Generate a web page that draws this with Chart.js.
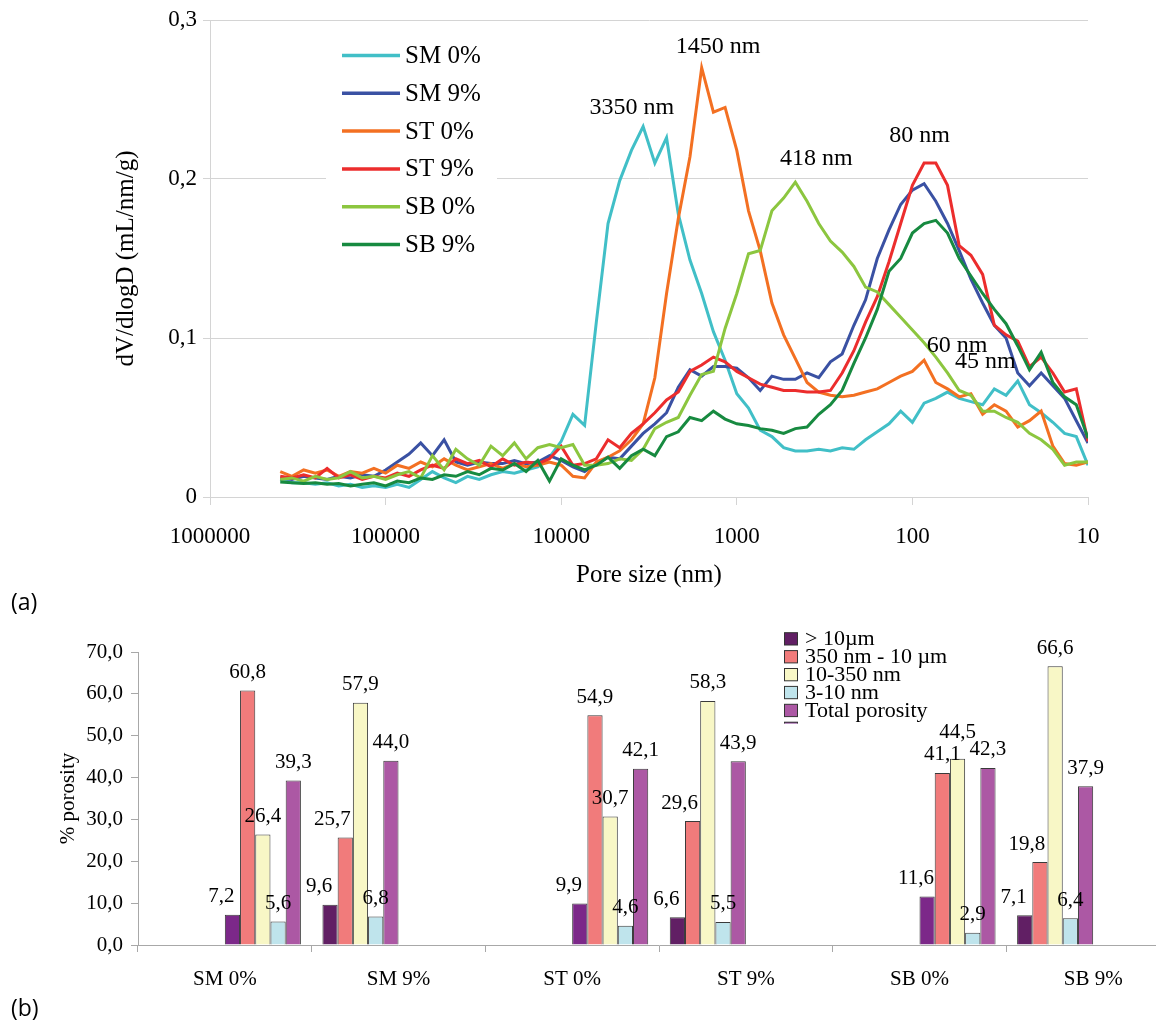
<!DOCTYPE html>
<html>
<head>
<meta charset="utf-8">
<script src="https://cdn.jsdelivr.net/npm/chart.js@4.4.0/dist/chart.umd.min.js"></script>
<style>
  html, body { margin: 0; padding: 0; background: #fff; overflow: hidden; }
  body { width: 1156px; height: 1022px; position: relative; }
  #poreChart { position: absolute; left: 0; top: 0; }
  #barChart { position: absolute; left: 0; top: 620px; }
  .tag { position: absolute; font-family: 'Open Sans', sans-serif; font-size: 23px; color: #000; line-height: 30px; }
</style>
</head>
<body>
<canvas id="poreChart" width="1156" height="600"></canvas>
<canvas id="barChart" width="1190" height="402"></canvas>
<div class="tag" style="left:11px; top:586px;">(a)</div>
<div class="tag" style="left:11px; top:992px;">(b)</div>
<script>
// (a) pore size distribution
const poreSize = [
  398100, 341500, 292900, 251200, 215400, 184800, 158500, 135900, 116600, 100000,
  85770, 73560, 63100, 54120, 46420, 39810, 34150, 29290, 25120, 21540,
  18480, 15850, 13590, 11660, 10000, 8577, 7356, 6310, 5412, 4642,
  3981, 3415, 2929, 2512, 2154, 1848, 1585, 1359, 1166, 1000,
  857.7, 735.6, 631.0, 541.2, 464.2, 398.1, 341.5, 292.9, 251.2, 215.4,
  184.8, 158.5, 135.9, 116.6, 100, 85.77, 73.56, 63.10, 54.12, 46.42,
  39.81, 34.15, 29.29, 25.12, 21.54, 18.48, 15.85, 13.59, 11.66, 10
];
const sm0 = [
  0.011, 0.009, 0.009, 0.008, 0.009, 0.007, 0.008, 0.006, 0.007, 0.006,
  0.008, 0.006, 0.011, 0.016, 0.012, 0.009, 0.013, 0.011, 0.014, 0.016,
  0.015, 0.017, 0.019, 0.025, 0.035, 0.052, 0.045, 0.110, 0.172, 0.199,
  0.218, 0.233, 0.210, 0.226, 0.178, 0.149, 0.128, 0.104, 0.086, 0.065,
  0.056, 0.042, 0.038, 0.031, 0.029, 0.029, 0.030, 0.029, 0.031, 0.030,
  0.036, 0.041, 0.046, 0.054, 0.047, 0.059, 0.062, 0.066, 0.062, 0.060,
  0.058, 0.068, 0.064, 0.073, 0.058, 0.053, 0.047, 0.040, 0.038, 0.020
];
const sm9 = [
  0.012, 0.011, 0.013, 0.012, 0.011, 0.013, 0.012, 0.014, 0.013, 0.017,
  0.022, 0.027, 0.034, 0.026, 0.036, 0.022, 0.020, 0.022, 0.021, 0.021,
  0.023, 0.021, 0.022, 0.026, 0.023, 0.019, 0.016, 0.021, 0.025, 0.024,
  0.032, 0.040, 0.046, 0.053, 0.069, 0.080, 0.076, 0.082, 0.082, 0.081,
  0.075, 0.067, 0.076, 0.074, 0.074, 0.078, 0.075, 0.085, 0.090, 0.108,
  0.124, 0.150, 0.168, 0.184, 0.193, 0.197, 0.186, 0.172, 0.155, 0.137,
  0.122, 0.108, 0.100, 0.078, 0.070, 0.078, 0.070, 0.062, 0.048, 0.034
];
const st0 = [
  0.016, 0.013, 0.017, 0.015, 0.017, 0.013, 0.016, 0.015, 0.018, 0.015,
  0.020, 0.018, 0.022, 0.019, 0.024, 0.020, 0.017, 0.019, 0.021, 0.018,
  0.021, 0.019, 0.020, 0.022, 0.020, 0.013, 0.012, 0.022, 0.025, 0.029,
  0.036, 0.046, 0.075, 0.128, 0.175, 0.214, 0.270, 0.242, 0.245, 0.218,
  0.180, 0.155, 0.122, 0.102, 0.087, 0.072, 0.066, 0.064, 0.063, 0.064,
  0.066, 0.068, 0.072, 0.076, 0.079, 0.086, 0.072, 0.068, 0.063, 0.065,
  0.052, 0.058, 0.054, 0.044, 0.048, 0.054, 0.032, 0.021, 0.020, 0.022
];
const st9 = [
  0.013, 0.012, 0.014, 0.012, 0.018, 0.012, 0.014, 0.011, 0.013, 0.012,
  0.015, 0.013, 0.017, 0.020, 0.018, 0.024, 0.021, 0.023, 0.019, 0.024,
  0.020, 0.022, 0.021, 0.024, 0.032, 0.020, 0.021, 0.024, 0.036, 0.031,
  0.040, 0.046, 0.053, 0.061, 0.066, 0.079, 0.083, 0.088, 0.085, 0.079,
  0.075, 0.071, 0.069, 0.067, 0.067, 0.066, 0.066, 0.067, 0.078, 0.092,
  0.110, 0.126, 0.148, 0.172, 0.196, 0.210, 0.210, 0.196, 0.158, 0.152,
  0.140, 0.108, 0.102, 0.098, 0.082, 0.088, 0.078, 0.066, 0.068, 0.035
];
const sb0 = [
  0.011, 0.012, 0.010, 0.013, 0.011, 0.012, 0.016, 0.012, 0.013, 0.011,
  0.014, 0.016, 0.012, 0.026, 0.017, 0.030, 0.024, 0.020, 0.032, 0.026,
  0.034, 0.024, 0.031, 0.033, 0.031, 0.033, 0.020, 0.020, 0.021, 0.024,
  0.023, 0.030, 0.043, 0.047, 0.050, 0.064, 0.077, 0.079, 0.106, 0.128,
  0.153, 0.155, 0.180, 0.188, 0.198, 0.186, 0.172, 0.161, 0.154, 0.145,
  0.132, 0.129, 0.121, 0.113, 0.105, 0.097, 0.088, 0.078, 0.067, 0.064,
  0.054, 0.054, 0.050, 0.047, 0.040, 0.036, 0.030, 0.020, 0.022, 0.022
];
const sb9 = [
  0.0095, 0.009, 0.0085, 0.009, 0.008, 0.0085, 0.007, 0.008, 0.009, 0.007,
  0.010, 0.009, 0.012, 0.011, 0.014, 0.013, 0.016, 0.014, 0.018, 0.017,
  0.021, 0.016, 0.023, 0.010, 0.024, 0.020, 0.017, 0.020, 0.025, 0.018,
  0.026, 0.030, 0.026, 0.038, 0.041, 0.050, 0.048, 0.054, 0.049, 0.046,
  0.045, 0.043, 0.042, 0.040, 0.043, 0.044, 0.052, 0.058, 0.067, 0.084,
  0.100, 0.118, 0.142, 0.150, 0.166, 0.172, 0.174, 0.166, 0.150, 0.139,
  0.128, 0.118, 0.109, 0.095, 0.080, 0.091, 0.072, 0.063, 0.058, 0.037
];
const seriesNames = ['SM 0%', 'SM 9%', 'ST 0%', 'ST 9%', 'SB 0%', 'SB 9%'];
const seriesValues = [sm0, sm9, st0, st9, sb0, sb9];
const xTicks = [1000000, 100000, 10000, 1000, 100, 10];
const yTicksA = [0, 0.1, 0.2, 0.3];
// peak notes: text placed at (pore size, dV/dlogD)
const peakNotes = [
  { text: '3350 nm', pore: 3955, value: 0.245 },
  { text: '1450 nm', pore: 1280, value: 0.283 },
  { text: '418 nm', pore: 352, value: 0.2125 },
  { text: '80 nm', pore: 91, value: 0.2275 },
  { text: '60 nm', pore: 55.7, value: 0.095 },
  { text: '45 nm', pore: 38.4, value: 0.085 }
];

// (b) porosity by pore class
const samples = ['SM 0%', 'SM 9%', 'ST 0%', 'ST 9%', 'SB 0%', 'SB 9%'];
const classNames = ['> 10\u00b5m', '350 nm - 10 \u00b5m', '10-350 nm', '3-10 nm', 'Total porosity'];
const over10um = [7.2, 9.6, 9.9, 6.6, 11.6, 7.1];
const from350nmTo10um = [60.8, 25.7, 54.9, 29.6, 41.1, 19.8];
const from10To350nm = [26.4, 57.9, 30.7, 58.3, 44.5, 66.6];
const from3To10nm = [5.6, 6.8, 4.6, 5.5, 2.9, 6.4];
const totalPorosity = [39.3, 44.0, 42.1, 43.9, 42.3, 37.9];
const classValues = [over10um, from350nmTo10um, from10To350nm, from3To10nm, totalPorosity];

const serif = "'Liberation Serif', 'Times New Roman', serif";
const lineColors = ['#41bfc7', '#3a51a3', '#f37022', '#ec2d2d', '#8cc63f', '#178a40'];
const colors9 = ['#611f64', '#f17b7b', '#f8f7c6', '#bfe4ec', '#ac58a4'];
const colors0 = ['#7c2889', '#f17b7b', '#f8f7c6', '#bfe4ec', '#ac58a4'];

const legendA = {
  id: 'legendA',
  afterDraw(chart) {
    const ctx = chart.ctx;
    const left = chart.chartArea.left;
    ctx.save();
    ctx.fillStyle = '#fff';
    ctx.fillRect(left + 116, 32, 171, 236);
    ctx.font = '25px ' + serif;
    ctx.textBaseline = 'middle';
    chart.data.datasets.forEach((ds, k) => {
      const y = 55.5 + k * 37.8;
      ctx.strokeStyle = ds.borderColor;
      ctx.lineWidth = 3.5;
      ctx.beginPath();
      ctx.moveTo(left + 132, y);
      ctx.lineTo(left + 190, y);
      ctx.stroke();
      ctx.fillStyle = '#000';
      ctx.fillText(ds.label, left + 195, y + 1);
    });
    ctx.restore();
  }
};

const notesA = {
  id: 'notesA',
  afterDatasetsDraw(chart) {
    const ctx = chart.ctx;
    const sx = chart.scales.x, sy = chart.scales.y;
    ctx.save();
    ctx.font = '24px ' + serif;
    ctx.fillStyle = '#000';
    ctx.textAlign = 'center';
    ctx.textBaseline = 'middle';
    peakNotes.forEach(n => ctx.fillText(n.text, sx.getPixelForValue(n.pore), sy.getPixelForValue(n.value)));
    ctx.restore();
  }
};

new Chart(document.getElementById('poreChart'), {
  type: 'line',
  data: {
    datasets: seriesNames.map((name, k) => ({
      label: name,
      data: poreSize.map((d, i) => ({ x: d, y: seriesValues[k][i] })),
      borderColor: lineColors[k],
      backgroundColor: lineColors[k],
      borderWidth: 3,
      pointRadius: 0,
      tension: 0,
      fill: false,
      order: seriesNames.length - 1 - k
    }))
  },
  options: {
    responsive: false,
    animation: false,
    layout: { padding: { left: 0, right: 68, top: 20, bottom: 0 } },
    plugins: { legend: { display: false }, tooltip: { enabled: false } },
    scales: {
      x: {
        type: 'logarithmic',
        reverse: true,
        min: 10,
        max: 1000000,
        afterBuildTicks: (axis) => { axis.ticks = xTicks.map(v => ({ value: v })); },
        afterFit: (axis) => { axis.height = 103; },
        ticks: {
          callback: (v) => String(v),
          font: { family: serif, size: 23 },
          color: '#000',
          padding: 18,
          maxRotation: 0,
          autoSkip: false
        },
        grid: { drawOnChartArea: false, drawTicks: true, tickLength: 8, color: '#d4d4d4' },
        border: { color: '#d4d4d4' },
        title: {
          display: true,
          text: 'Pore size (nm)',
          font: { family: serif, size: 25 },
          color: '#000',
          padding: { top: 0, bottom: 10 }
        }
      },
      y: {
        min: 0,
        max: 0.3,
        afterBuildTicks: (axis) => { axis.ticks = yTicksA.map(v => ({ value: v })); },
        afterFit: (axis) => { axis.width = 210; },
        ticks: {
          callback: (v) => v === 0 ? '0' : v.toFixed(1).replace('.', ','),
          font: { family: serif, size: 23 },
          color: '#000',
          padding: 6
        },
        grid: { color: '#d4d4d4', tickLength: 7 },
        border: { color: '#d4d4d4' },
        title: {
          display: true,
          text: 'dV/dlogD (mL/nm/g)',
          font: { family: serif, size: 25 },
          color: '#000',
          padding: { top: 111, bottom: 0 }
        }
      }
    }
  },
  plugins: [notesA, legendA]
});

// bar chart: first five slots hold the 9% samples, the last five the 0% samples
const barSets = [];
classValues.forEach((vals, c) => {
  barSets.push({
    label: classNames[c],
    data: vals.map((v, i) => i % 2 === 1 ? v : null),
    backgroundColor: colors9[c]
  });
});
classValues.forEach((vals, c) => {
  barSets.push({
    label: classNames[c] + ' ',
    data: vals.map((v, i) => i % 2 === 0 ? v : null),
    backgroundColor: colors0[c]
  });
});
const labelNudge = [-11, -13, 0, 0, 0, -11, 0, 0, 0, 0];

const barLabels = {
  id: 'barLabels',
  afterDatasetsDraw(chart) {
    const ctx = chart.ctx;
    const placed = [];
    ctx.save();
    ctx.font = '21px ' + serif;
    ctx.fillStyle = '#000';
    ctx.textAlign = 'center';
    ctx.textBaseline = 'middle';
    chart.data.datasets.forEach((ds, k) => {
      chart.getDatasetMeta(k).data.forEach((bar, i) => {
        const v = ds.data[i];
        if (v === null) return;
        const text = v.toFixed(1).replace('.', ',');
        const w = ctx.measureText(text).width;
        const x = bar.x + labelNudge[k];
        let y = bar.y - 18;
        // lift a label that would sit on one already drawn
        placed.forEach(p => {
          if (Math.abs(p.x - x) < (p.w + w) / 2 - 8 && Math.abs(p.y - y) < 20) y = p.y - 22;
        });
        placed.push({ x, y, w });
        ctx.fillText(text, x, y);
      });
    });
    ctx.restore();
  }
};

const legendB = {
  id: 'legendB',
  afterDraw(chart) {
    const ctx = chart.ctx;
    ctx.save();
    ctx.beginPath();
    ctx.rect(770, 0, 300, 103.5);
    ctx.clip();
    ctx.font = '22px ' + serif;
    ctx.textBaseline = 'middle';
    chart.data.datasets.slice(0, 6).forEach((ds, k) => {
      const top = 12.7 + k * 17.9;
      ctx.fillStyle = ds.backgroundColor;
      ctx.fillRect(784.5, top, 13, 12.3);
      ctx.strokeStyle = '#333';
      ctx.lineWidth = 1;
      ctx.strokeRect(784.5, top, 13, 12.3);
      if (k < 5) {
        ctx.fillStyle = '#000';
        ctx.fillText(ds.label, 805, top + 6.5);
      }
    });
    ctx.restore();
  }
};

new Chart(document.getElementById('barChart'), {
  type: 'bar',
  data: { labels: samples, datasets: barSets },
  options: {
    responsive: false,
    animation: false,
    layout: { padding: { left: 0, right: 10, top: 32, bottom: 0 } },
    datasets: { bar: { categoryPercentage: 0.876, barPercentage: 1, borderColor: '#3a3a3a', borderWidth: 1 } },
    plugins: { legend: { display: false }, tooltip: { enabled: false } },
    scales: {
      x: {
        afterFit: (axis) => { axis.height = 77; },
        ticks: { font: { family: serif, size: 21 }, color: '#000', padding: 15, maxRotation: 0 },
        grid: { offset: true, drawOnChartArea: false, tickLength: 7, color: '#a8a8a8' },
        border: { color: '#a8a8a8' }
      },
      y: {
        min: 0,
        max: 70,
        afterFit: (axis) => { axis.width = 138; },
        ticks: {
          stepSize: 10,
          callback: (v) => v.toFixed(1).replace('.', ','),
          font: { family: serif, size: 21 },
          color: '#000',
          padding: 8
        },
        grid: { drawOnChartArea: false, tickLength: 7, color: '#a8a8a8' },
        border: { color: '#a8a8a8' },
        title: {
          display: true,
          text: '% porosity',
          font: { family: serif, size: 21 },
          color: '#000',
          padding: { top: 56, bottom: 0 }
        }
      }
    }
  },
  plugins: [barLabels, legendB]
});
</script>
</body>
</html>
